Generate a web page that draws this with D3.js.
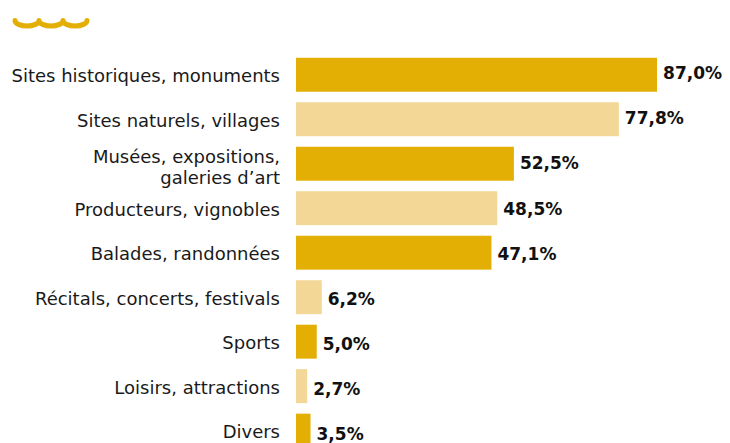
<!DOCTYPE html>
<html>
<head>
<meta charset="utf-8">
<script src="https://cdn.jsdelivr.net/npm/d3@7"></script>
<style>
  html, body { margin: 0; padding: 0; background: #fff; }
  svg { display: block; }
</style>
</head>
<body>
<svg id="chart" width="730" height="443"></svg>
<script>
// Activités pratiquées (% des visiteurs)
const categories = [
  "Sites historiques, monuments",
  "Sites naturels, villages",
  "Musées, expositions,\ngaleries d’art",
  "Producteurs, vignobles",
  "Balades, randonnées",
  "Récitals, concerts, festivals",
  "Sports",
  "Loisirs, attractions",
  "Divers"
];
const values = [87.0, 77.8, 52.5, 48.5, 47.1, 6.2, 5.0, 2.7, 3.5];
const palette = ["#E3AF04", "#F3D796"];

const svg = d3.select("#chart");
const fontFamily = "'DejaVu Sans', 'Noto Sans', sans-serif";

const x0 = 296;
const x = d3.scaleLinear().domain([0, 100]).range([x0, x0 + 415]);
const y = d3.scaleBand()
  .domain(categories)
  .range([52, 52 + 44.6 * categories.length])
  .paddingInner(0.237)
  .paddingOuter(0.13);

// Baselines of the text rows (category column and value column)
const yCat = d3.scalePoint().domain(categories).range([82, 438]);
const yVal = d3.scalePoint().domain(categories).range([79.3, 440]);

// Decorative wave in the top-left corner
svg.append("path")
  .attr("d", "M15,20.5 a12,5.5 0 0 0 24,0 a12,5.5 0 0 0 24,0 a12,5.5 0 0 0 24,0")
  .attr("fill", "none")
  .attr("stroke", palette[0])
  .attr("stroke-width", 5)
  .attr("stroke-linecap", "round")
  .attr("stroke-linejoin", "round");

const rows = svg.append("g").selectAll("g")
  .data(categories.map((c, i) => ({ c, v: values[i], i })))
  .join("g");

rows.append("rect")
  .attr("x", x(0))
  .attr("y", d => y(d.c))
  .attr("width", d => x(d.v) - x(0))
  .attr("height", y.bandwidth())
  .attr("fill", d => palette[d.i % 2]);

// Category labels, right-aligned, with optional line break
const lineHeight = 21;
rows.append("text")
  .attr("text-anchor", "end")
  .attr("font-family", fontFamily)
  .attr("font-size", 18)
  .attr("fill", "#1a1a1a")
  .each(function (d) {
    const lines = d.c.split("\n");
    const base = yCat(d.c);
    const shift = lines.length > 1 ? 2 : 0;
    const t = d3.select(this);
    lines.forEach((ln, k) => {
      t.append("tspan")
        .attr("x", 280)
        .attr("y", base + shift + (k - (lines.length - 1) / 2) * lineHeight)
        .text(ln);
    });
  });

// Value labels
const fmt = v => v.toFixed(1).replace(".", ",") + "%";
rows.append("text")
  .attr("x", d => x(d.v) + 6)
  .attr("y", d => yVal(d.c))
  .attr("font-family", fontFamily)
  .attr("font-size", 17)
  .attr("font-weight", 700)
  .attr("fill", "#111")
  .text(d => fmt(d.v));
</script>
</body>
</html>
